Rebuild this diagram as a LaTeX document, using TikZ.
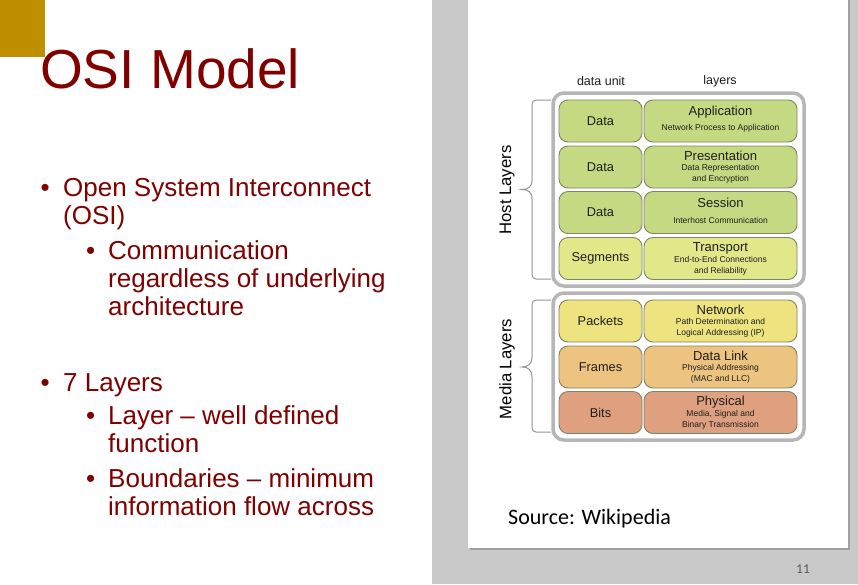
\documentclass[tikz,border=0pt]{standalone}
\usepackage{fontspec}
\setmainfont{Liberation Sans}
\newfontfamily\calibrifont{Carlito}
\definecolor{maroon}{RGB}{128,0,0}
\definecolor{gold}{RGB}{191,143,0}
\definecolor{panelgray}{RGB}{200,201,200}
\definecolor{shadowgray}{RGB}{160,160,160}
\definecolor{framegray}{RGB}{182,182,182}
\definecolor{boxedge}{RGB}{130,130,105}
\definecolor{bracegray}{RGB}{150,150,150}
\definecolor{inkgray}{RGB}{30,30,30}
\definecolor{cgreen}{RGB}{197,217,130}
\definecolor{clime}{RGB}{225,232,138}
\definecolor{cyellow}{RGB}{237,228,128}
\definecolor{corange}{RGB}{237,195,128}
\definecolor{csalmon}{RGB}{222,160,126}
\begin{document}
\begin{tikzpicture}[x=1pt,y=-1pt,
  titletext/.style={anchor=base west,inner sep=0pt,text=maroon,font=\fontsize{55}{60}\selectfont},
  bodytext/.style={anchor=base west,inner sep=0pt,text=maroon,font=\fontsize{26}{28}\selectfont},
  group/.style={draw=framegray,line width=3.5pt,fill=white,rounded corners=11pt,inner sep=0pt},
  unitbox/.style={draw=boxedge,line width=0.9pt,rounded corners=9pt,minimum width=83pt,minimum height=42pt,inner sep=0pt,
    text=inkgray,font=\fontsize{12.8}{14}\selectfont},
  layerbox/.style={draw=boxedge,line width=0.9pt,rounded corners=9pt,minimum width=153pt,minimum height=42pt,inner sep=0pt},
  layername/.style={inner sep=0pt,text=inkgray,font=\fontsize{13}{14}\selectfont},
  layerinfo/.style={inner sep=0pt,text=inkgray,align=center,font=\fontsize{8.5}{10.8}\selectfont},
  headtext/.style={inner sep=0pt,text=inkgray,font=\fontsize{12.5}{14}\selectfont},
  sidetext/.style={inner sep=0pt,text=black,rotate=90,font=\fontsize{16.7}{18}\selectfont},
  brace/.style={draw=bracegray,line width=1pt}]
\useasboundingbox (0,0) rectangle (858,584);
\fill[white] (0,0) rectangle (858,584);

% right-hand grey panel with the inserted page
\fill[panelgray] (432,0) rectangle (858,584);
\fill[shadowgray] (470,-5) rectangle (849.5,549.5);
\fill[white] (468,-5) rectangle (847.5,547.5);

% corner accent and title
\fill[gold] (0,0) rectangle (45,57);
\node[titletext] (title) at (40,88) {OSI Model};

% bullet list
\node[bodytext] (d1) at (40.5,196) {•};
\node[bodytext] (t1a) at (63,196) {Open System Interconnect};
\node[bodytext] (t1b) at (63,224) {(OSI)};
\node[bodytext] (d2) at (86,259) {•};
\node[bodytext] (t2a) at (108,259) {Communication};
\node[bodytext] (t2b) at (108,287) {regardless of underlying};
\node[bodytext] (t2c) at (108,315) {architecture};
\node[bodytext] (d3) at (40.5,391) {•};
\node[bodytext] (t3a) at (63,391) {7 Layers};
\node[bodytext] (d4) at (86,424) {•};
\node[bodytext] (t4a) at (108,424) {Layer – well defined};
\node[bodytext] (t4b) at (108,452) {function};
\node[bodytext] (d5) at (86,487) {•};
\node[bodytext] (t5a) at (108,487) {Boundaries – minimum};
\node[bodytext] (t5b) at (108,515) {information flow across};

% column headings
\node[headtext] (hunit) at (601,81) {data unit};
\node[headtext] (hlayer) at (720,81) {layers};

% braces and group labels
\draw[brace,rounded corners=4pt] (551,100) -- (532,100) -- (532,180);
\draw[brace] (532,180) .. controls (532,187) and (528,189.5) .. (522,189.5)
  .. controls (528,189.5) and (532,192) .. (532,199);
\draw[brace,rounded corners=4pt] (532,199) -- (532,279) -- (551,279);
\draw[brace,rounded corners=4pt] (551,300) -- (532,300) -- (532,357);
\draw[brace] (532,357) .. controls (532,364) and (528,367) .. (522,367)
  .. controls (528,367) and (532,370) .. (532,377);
\draw[brace,rounded corners=4pt] (532,377) -- (532,432) -- (551,432);
\node[sidetext] (hostlbl) at (507,190) {Host Layers};
\node[sidetext] (medialbl) at (507,369) {Media Layers};

% layer groups
\node[group,minimum width=251pt,minimum height=193pt] (host) at (678.5,189.5) {};
\node[group,minimum width=251pt,minimum height=147pt] (media) at (678.5,366.5) {};

% Application
\node[unitbox,fill=cgreen] (u7) at (600.5,121) {Data};
\node[layerbox,fill=cgreen] (l7) at (720.5,121) {};
\node[layername] (n7) at (720.5,112) {Application};
\node[layerinfo] (i7) at (720.5,128) {Network Process to Application};
% Presentation
\node[unitbox,fill=cgreen] (u6) at (600.5,167) {Data};
\node[layerbox,fill=cgreen] (l6) at (720.5,167) {};
\node[layername] (n6) at (720.5,156) {Presentation};
\node[layerinfo] (i6) at (720.5,173.5) {Data Representation\\and Encryption};
% Session
\node[unitbox,fill=cgreen] (u5) at (600.5,212.5) {Data};
\node[layerbox,fill=cgreen] (l5) at (720.5,212.5) {};
\node[layername] (n5) at (720.5,203) {Session};
\node[layerinfo] (i5) at (720.5,220) {Interhost Communication};
% Transport
\node[unitbox,fill=clime] (u4) at (600.5,258.5) {Segments};
\node[layerbox,fill=clime] (l4) at (720.5,258.5) {};
\node[layername] (n4) at (720.5,248) {Transport};
\node[layerinfo] (i4) at (720.5,266) {End-to-End Connections\\and Reliability};
% Network
\node[unitbox,fill=cyellow] (u3) at (600.5,321) {Packets};
\node[layerbox,fill=cyellow] (l3) at (720.5,321) {};
\node[layername] (n3) at (720.5,310) {Network};
\node[layerinfo] (i3) at (720.5,327.5) {Path Determination and\\Logical Addressing (IP)};
% Data Link
\node[unitbox,fill=corange] (u2) at (600.5,367) {Frames};
\node[layerbox,fill=corange] (l2) at (720.5,367) {};
\node[layername] (n2) at (720.5,356) {Data Link};
\node[layerinfo] (i2) at (720.5,374) {Physical Addressing\\(MAC and LLC)};
% Physical
\node[unitbox,fill=csalmon] (u1) at (600.5,412.5) {Bits};
\node[layerbox,fill=csalmon] (l1) at (720.5,412.5) {};
\node[layername] (n1) at (720.5,402) {Physical};
\node[layerinfo] (i1) at (720.5,419.5) {Media, Signal and\\Binary Transmission};

% source note and slide number
\node[anchor=base west,inner sep=0pt,font=\calibrifont\fontsize{22}{24}\selectfont] (src) at (508,524) {Source: Wikipedia};
\node[anchor=base west,inner sep=0pt,text={rgb,255:red,89;green,89;blue,89},font=\calibrifont\fontsize{13.5}{15}\selectfont] (pnum) at (796,573) {11};
\end{tikzpicture}
\end{document}
